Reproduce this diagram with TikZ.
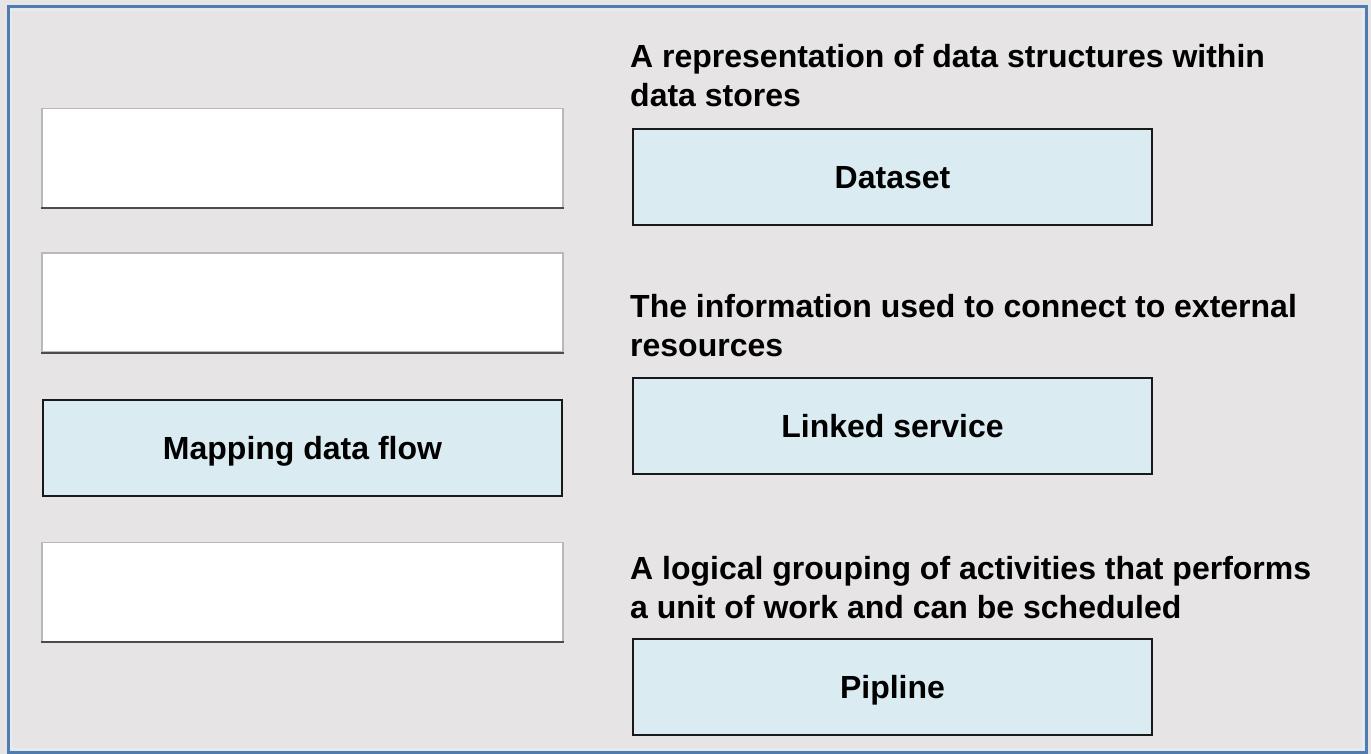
\documentclass[tikz,border=0pt]{standalone}
\usepackage{fontspec}
\setmainfont{Liberation Sans}
\usetikzlibrary{positioning}
\definecolor{panelgray}{HTML}{E6E4E4}
\definecolor{frameblue}{HTML}{4F7BAE}
\definecolor{termblue}{HTML}{DAECF2}
\tikzset{
	slotbox/.style={draw=gray!55, line width=1.5pt, fill=white, minimum width=521pt, minimum height=99pt, inner sep=0pt,
		append after command={(\tikzlastnode.south west) edge[draw=black!70, line width=1.8pt] (\tikzlastnode.south east)}},
	termbox/.style={draw=black!90, line width=2.8pt, fill=termblue, minimum width=519pt, minimum height=96pt, inner sep=0pt,
		text height=22.8pt, text depth=0pt, font=\fontsize{32}{38}\selectfont\bfseries},
	desclabel/.style={anchor=base west, align=left, inner sep=0pt, font=\fontsize{32}{39}\selectfont\bfseries}
}
\begin{document}
\begin{tikzpicture}[x=1pt,y=-1pt]
	\useasboundingbox (0,0) rectangle (1371,754);
	\fill[panelgray] (0,0) rectangle (1371,754);
	\draw[frameblue, line width=3pt] (8,7) rectangle (1366,752);
	\draw[white!85!frameblue, line width=1.2pt] (11,10) rectangle (1363,749);

	% left column
	\node[slotbox] at (302.5, 158)  (s1) {};
	\node[slotbox] at (302.5, 302.5)  (s2) {};
	\node[termbox] at (302.5, 448)  (flow) {Mapping data flow};
	\node[slotbox] at (302.5, 592)  (s4) {};

	% right column
	\node[desclabel] at (630, 107)  (d1) {A representation of data structures within\\data stores};
	\node[termbox] at (892.5, 177)  (ds) {Dataset};

	\node[desclabel] at (630, 356)  (d2) {The information used to connect to external\\resources};
	\node[termbox] at (892.5, 426)  (ls) {Linked service};

	\node[desclabel] at (630, 618)  (d3) {A logical grouping of activities that performs\\a unit of work and can be scheduled};
	\node[termbox] at (892.5, 687)  (pl) {Pipline};
\end{tikzpicture}
\end{document}
